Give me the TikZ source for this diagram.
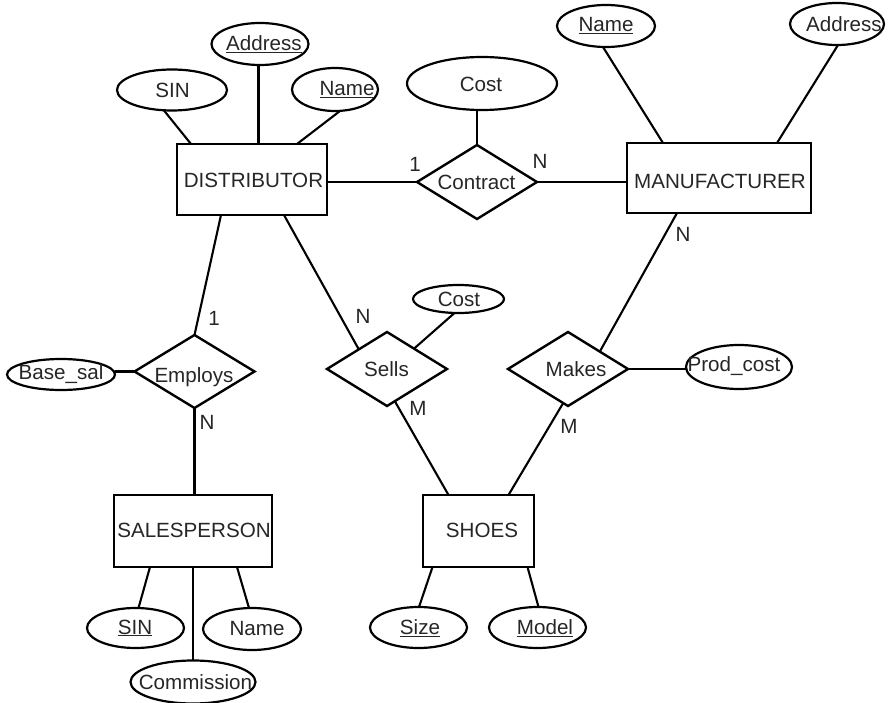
\documentclass[tikz,border=0pt]{standalone}
\usepackage{fontspec}
\setmainfont{Liberation Sans}
\usetikzlibrary{shapes.geometric,calc}
\begin{document}
\begin{tikzpicture}[x=1pt,y=-1pt,
  every node/.style={font=\fontsize{20.6}{24}\selectfont, inner sep=0pt, outer sep=0pt, text=black!85},
  ent/.style={draw=black, line width=2.4pt, rectangle},
  rel/.style={draw=black, line width=2.4pt, diamond, minimum width=120pt, minimum height=74pt},
  attr/.style={draw=black, line width=2.2pt, ellipse},
  conn/.style={line width=2.1pt},
  card/.style={}
]
\useasboundingbox (0,0) rectangle (889,703);

% entities
\node[ent, minimum width=150pt, minimum height=71pt] (dist) at (252,179.5) {};
\node at (253.5,180.5) {DISTRIBUTOR};
\node[ent, minimum width=184pt, minimum height=70pt] (mfr) at (719,178) {};
\node at (720,181) {MANUFACTURER};
\node[ent, minimum width=111pt, minimum height=72pt] (shoes) at (478.5,531) {};
\node at (482,530) {SHOES};
\node[ent, minimum width=158pt, minimum height=72pt] (sales) at (193,531) {};
\node at (194,530) {SALESPERSON};

% relationships
\node[rel] (contract) at (477,182) {};
\node at (476.5,182.5) {Contract};
\node[rel, minimum height=73pt] (employs) at (194.5,371.5) {};
\node at (194,377) {Employs};
\node[rel] (sells) at (387,369) {};
\node at (386.5,369) {Sells};
\node[rel] (makes) at (568,369) {};
\node at (576,369) {Makes};

% attributes
\node[attr, minimum width=110pt, minimum height=41pt] (sinD) at (172,90) {};
\node at (172.5,90) {SIN};
\node[attr, minimum width=97pt, minimum height=42pt] (addrD) at (260,44) {};
\node at (264,44) {\underline{Address}};
\node[attr, minimum width=86pt, minimum height=43pt] (nameD) at (335,89.5) {};
\node at (347,90) {\underline{Name}};
\node[attr, minimum width=150pt, minimum height=53pt] (costC) at (482,83.5) {};
\node at (481,84) {Cost};
\node[attr, minimum width=98pt, minimum height=42pt] (nameM) at (606,26) {};
\node at (606,26) {\underline{Name}};
\node[attr, minimum width=94pt, minimum height=42pt] (addrM) at (837,24) {};
\node at (844,24) {Address};
\node[attr, minimum width=91pt, minimum height=28pt] (costS) at (458.5,299) {};
\node at (459,299) {Cost};
\node[attr, minimum width=106pt, minimum height=44pt] (prodC) at (739,367) {};
\node at (734,366) {Prod\_cost};
\node[attr, minimum width=108pt, minimum height=31pt] (baseC) at (61,374.5) {};
\node at (61,374) {Base\_sal};
\node[attr, minimum width=97pt, minimum height=40pt] (sinS) at (135.5,628) {};
\node at (135,628) {\underline{SIN}};
\node[attr, minimum width=98pt, minimum height=42pt] (nameS) at (252,629) {};
\node at (257,629) {Name};
\node[attr, minimum width=125pt, minimum height=43pt] (commC) at (193,682) {};
\node at (195.5,682) {Commission};
\node[attr, minimum width=97pt, minimum height=41pt] (sizeC) at (418.5,627.5) {};
\node at (420,628) {\underline{Size}};
\node[attr, minimum width=97pt, minimum height=41pt] (modelC) at (537.5,627.5) {};
\node at (545,628) {\underline{Model}};

% connectors
\draw[conn] ([xshift=-8pt]sinD.south) -- ([xshift=-61pt]dist.north);
\draw[conn] ([xshift=-1.5pt]addrD.south) -- ([xshift=6.5pt]dist.north);
\draw[conn] ([xshift=5pt]nameD.south) -- ([xshift=45pt]dist.north);
\draw[conn] (dist.east |- contract.west) -- (contract.west);
\draw[conn] (contract.east) -- (mfr.west |- contract.east);
\draw[conn] (contract.north |- costC.south) -- (contract.north);
\draw[conn] ([xshift=-3pt]nameM.south) -- ([xshift=-56pt]mfr.north);
\draw[conn] ([xshift=1pt]addrM.south) -- ([xshift=58pt]mfr.north);
\draw[conn] ([xshift=-42pt]mfr.south) -- ($(makes.north)!0.53!(makes.east)$);
\draw[conn] (makes.east) -- (makes.east -| prodC.west);
\draw[conn] ($(makes.south)!0.08!(makes.west)$) -- ([xshift=30pt]shoes.north);
\draw[conn] ($(sells.south)!0.13!(sells.east)$) -- ([xshift=-30pt]shoes.north);
\draw[conn] ([xshift=32pt]dist.south) -- ($(sells.north)!0.47!(sells.west)$);
\draw[conn] ([xshift=-4pt]costS.south) -- ($(sells.north)!0.45!(sells.east)$);
\draw[conn] ([xshift=-31pt]dist.south) -- (employs.north);
\draw[conn] (employs.west) -- (employs.west -| baseC.east);
\draw[conn] (employs.south) -- (employs.south |- sales.north);
\draw[conn] ([xshift=-43pt]sales.south) -- ([xshift=3pt]sinS.north);
\draw[conn] (commC.north |- sales.south) -- (commC.north);
\draw[conn] ([xshift=44pt]sales.south) -- ([xshift=-3pt]nameS.north);
\draw[conn] ([xshift=-46pt]shoes.south) -- ([xshift=0.5pt]sizeC.north);
\draw[conn] ([xshift=49pt]shoes.south) -- ([xshift=1pt]modelC.north);

% cardinalities
\node[card] (c1) at (415,164) {1};
\node[card] (c2) at (540,161) {N};
\node[card] (c3) at (683,234) {N};
\node[card] (c4) at (363,316) {N};
\node[card] (c5) at (418,408) {M};
\node[card] (c6) at (569,426) {M};
\node[card] (c7) at (214,318) {1};
\node[card] (c8) at (207,422) {N};
\end{tikzpicture}
\end{document}
